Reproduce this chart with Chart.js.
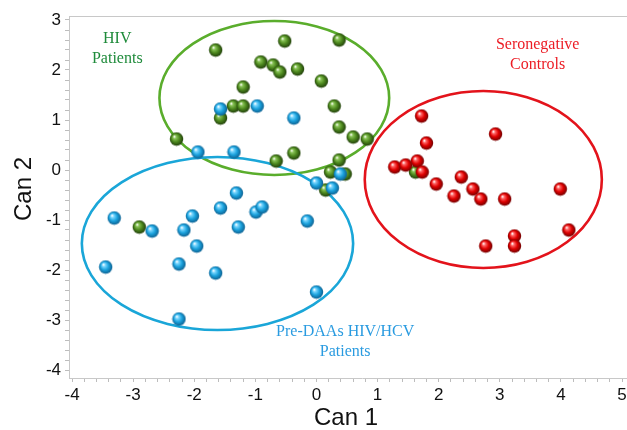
<!DOCTYPE html>
<html>
<head>
<meta charset="utf-8">
<script src="https://cdn.jsdelivr.net/npm/chart.js@4/dist/chart.umd.min.js"></script>
<style>
  html, body { margin: 0; padding: 0; overflow: hidden; background: #fff; }
  #wrap { width: 660px; height: 430px; }
</style>
</head>
<body>
<div id="wrap"><canvas id="chart" width="660" height="430"></canvas></div>
<script>
// Canonical scores, [Can 1, Can 2]
const hivPatients = [
    [-1.65, 2.40], [-0.52, 2.58], [0.37, 2.60], [-0.91, 2.16], [-0.71, 2.10],
    [-0.60, 1.96], [-0.31, 2.02], [0.08, 1.78], [-1.20, 1.66], [-1.36, 1.28],
    [-1.20, 1.28], [0.29, 1.28], [-1.57, 1.04], [0.37, 0.86], [0.60, 0.66],
    [0.83, 0.62], [-2.29, 0.62], [-0.37, 0.34], [-0.66, 0.18], [0.37, 0.20],
    [0.23, -0.04], [0.47, -0.08], [0.15, -0.40], [1.62, -0.04], [-2.90, -1.14]
];
const hcvPatients = [
    [-1.57, 1.22], [-0.97, 1.28], [-0.37, 1.04], [-1.94, 0.36], [-1.35, 0.36],
    [0.39, -0.08], [0.00, -0.26], [0.26, -0.36], [-1.31, -0.46], [-3.31, -0.96],
    [-2.69, -1.22], [-2.17, -1.20], [-2.03, -0.92], [-1.57, -0.76], [-1.28, -1.14],
    [-0.99, -0.84], [-0.89, -0.74], [-0.15, -1.02], [-1.96, -1.52], [-3.45, -1.94],
    [-2.25, -1.88], [-1.65, -2.06], [0.00, -2.44], [-2.25, -2.98]
];
const controls = [
    [1.72, 1.08], [2.93, 0.72], [1.80, 0.54], [1.28, 0.06], [1.46, 0.10],
    [1.65, 0.18], [1.73, -0.04], [1.96, -0.28], [2.37, -0.14], [2.25, -0.52],
    [2.56, -0.38], [2.69, -0.58], [3.08, -0.58], [3.99, -0.38], [4.13, -1.20],
    [3.24, -1.32], [3.24, -1.52], [2.77, -1.52]
];

// group ellipses: [centre x, centre y, radius x, radius y]
const hivEllipse = [-0.69, 1.44, 1.88, 1.54];
const hcvEllipse = [-1.62, -1.47, 2.22, 1.73];
const ctrlEllipse = [2.73, -0.19, 1.94, 1.77];

const groupLabels = {
    hiv: ['HIV', 'Patients'],
    hcv: ['Pre-DAAs HIV/HCV', 'Patients'],
    ctrl: ['Seronegative', 'Controls']
};
const axisTitles = ['Can 1', 'Can 2'];

// little shaded balls for the markers
function sphere(light, mid, dark) {
    const c = document.createElement('canvas');
    c.width = 15; c.height = 15;
    const g = c.getContext('2d');
    const grad = g.createRadialGradient(5.2, 5.0, 0.4, 7.5, 7.5, 7);
    grad.addColorStop(0, '#ffffff');
    grad.addColorStop(0.18, light);
    grad.addColorStop(0.55, mid);
    grad.addColorStop(1, dark);
    g.fillStyle = grad;
    g.beginPath();
    g.arc(7.5, 7.5, 6.7, 0, Math.PI * 2);
    g.fill();
    return c;
}

const greenBall = sphere('#8cc65a', '#4e8a1f', '#1d3a08');
const blueBall = sphere('#7fd8ff', '#1ba3de', '#0b5c8c');
const redBall = sphere('#ff6a6a', '#e00000', '#6a0000');

const toXY = arr => arr.map(p => ({ x: p[0], y: p[1] }));

const ellipsePlugin = {
    id: 'ellipses',
    beforeDatasetsDraw(chart) {
        const { ctx, chartArea, scales: { x, y } } = chart;
        const items = [
            [hivEllipse, '#5aad2c'],
            [hcvEllipse, '#1aa6d8'],
            [ctrlEllipse, '#e3131b']
        ];
        ctx.save();
        ctx.beginPath();
        ctx.rect(chartArea.left, chartArea.top, chartArea.right - chartArea.left, chartArea.bottom - chartArea.top);
        ctx.clip();
        items.forEach(([e, color]) => {
            const cx = x.getPixelForValue(e[0]);
            const cy = y.getPixelForValue(e[1]);
            const rx = Math.abs(x.getPixelForValue(e[0] + e[2]) - cx);
            const ry = Math.abs(y.getPixelForValue(e[1] + e[3]) - cy);
            ctx.beginPath();
            ctx.ellipse(cx, cy, rx, ry, 0, 0, Math.PI * 2);
            ctx.strokeStyle = color;
            ctx.lineWidth = 2.6;
            ctx.stroke();
        });
        ctx.restore();
    }
};

const textPlugin = {
    id: 'texts',
    afterDraw(chart) {
        const { ctx, chartArea, scales: { x, y } } = chart;
        ctx.save();
        // top frame
        ctx.strokeStyle = '#c8c8c8';
        ctx.lineWidth = 1;
        ctx.beginPath();
        ctx.moveTo(chartArea.left, chartArea.top + 0.5);
        ctx.lineTo(chartArea.right, chartArea.top + 0.5);
        ctx.stroke();

        ctx.textAlign = 'center';
        ctx.textBaseline = 'middle';
        ctx.font = '16px "Liberation Serif", "Times New Roman", serif';
        const put = (lines, vx, vy, color) => {
            ctx.fillStyle = color;
            const px = x.getPixelForValue(vx);
            const py = y.getPixelForValue(vy);
            lines.forEach((t, i) => ctx.fillText(t, px, py + i * 20));
        };
        put(groupLabels.hiv, -3.26, 2.62, '#1f8b3b');
        put(groupLabels.ctrl, 3.62, 2.50, '#ec1c24');
        put(groupLabels.hcv, 0.47, -3.24, '#2a9be0');

        // axis titles
        ctx.fillStyle = '#111';
        ctx.font = '24px "Liberation Sans", Arial, sans-serif';
        ctx.fillText(axisTitles[0], 346, 418);
        ctx.translate(24, 189);
        ctx.rotate(-Math.PI / 2);
        ctx.fillText(axisTitles[1], 0, 0);
        ctx.restore();
    }
};

const intLabel = v => {
    const r = Math.round(v);
    return Math.abs(v - r) < 1e-6 ? String(r) : '';
};

new Chart(document.getElementById('chart'), {
    type: 'scatter',
    data: {
        datasets: [
            { label: 'HIV Patients', data: toXY(hivPatients), pointStyle: greenBall, order: 3 },
            { label: 'Pre-DAAs HIV/HCV Patients', data: toXY(hcvPatients), pointStyle: blueBall, order: 2 },
            { label: 'Seronegative Controls', data: toXY(controls), pointStyle: redBall, order: 1 }
        ]
    },
    options: {
        responsive: false,
        animation: false,
        events: [],
        layout: { padding: { top: 16, right: 0, left: 0, bottom: 0 } },
        plugins: { legend: { display: false }, tooltip: { enabled: false } },
        scales: {
            x: {
                type: 'linear',
                min: -4.05,
                max: 5.54,
                afterFit: s => { s.height = 52; },
                border: { color: '#c8c8c8' },
                grid: { drawOnChartArea: false, tickLength: 4, tickColor: '#bdbdbd' },
                ticks: {
                    stepSize: 0.2,
                    includeBounds: false,
                    autoSkip: false,
                    maxRotation: 0,
                    padding: 3,
                    color: '#111',
                    font: { family: '"Liberation Sans", Arial, sans-serif', size: 17 },
                    callback: intLabel
                }
            },
            y: {
                type: 'linear',
                min: -4.16,
                max: 3.08,
                afterFit: s => { s.width = 69; },
                border: { color: '#c8c8c8' },
                grid: { drawOnChartArea: false, tickLength: 4, tickColor: '#bdbdbd' },
                ticks: {
                    stepSize: 0.2,
                    includeBounds: false,
                    autoSkip: false,
                    padding: 4,
                    color: '#111',
                    font: { family: '"Liberation Sans", Arial, sans-serif', size: 17 },
                    callback: intLabel
                }
            }
        }
    },
    plugins: [ellipsePlugin, textPlugin]
});
</script>
</body>
</html>
